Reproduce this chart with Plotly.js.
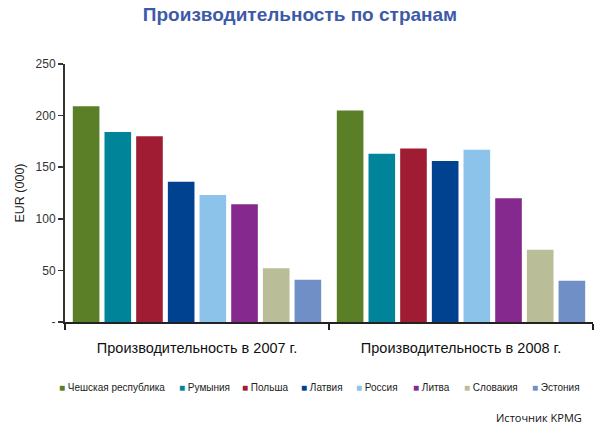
<!DOCTYPE html>
<html>
<head>
<meta charset="utf-8">
<script src="https://cdn.plot.ly/plotly-3.0.1.min.js"></script>
<style>html,body{margin:0;padding:0;background:#fff;}#chart{width:600px;height:430px;}</style>
</head>
<body>
<div id="chart"></div>
<script>
// ---- data ----
const categories = ["Производительность в 2007 г.", "Производительность в 2008 г."];
const countries = ["Чешская республика", "Румыния", "Польша", "Латвия", "Россия", "Литва", "Словакия", "Эстония"];
const values2007 = [209, 184, 180, 136, 123, 114, 52, 41];
const values2008 = [205, 163, 168, 156, 167, 120, 70, 40];
const yTickVals = [0, 50, 100, 150, 200, 250];
const yTickText = ["-", "50", "100", "150", "200", "250"];
const chartTitle = "Производительность по странам";
const yTitle = "EUR (000)";
const sourceText = "Источник KPMG";

// ---- styles ----
const colors = ["#5a7f26", "#00849a", "#a01c33", "#004190", "#8cc3ea", "#86298e", "#b9bd98", "#6f8fc6"];
const legendPx = [57, 177, 240, 299, 354, 411, 462, 530];
const plotL = 65, plotR = 593, plotT = 64, plotB = 322;
const W = 600, H = 430;
const FONT = "Liberation Sans, Arial, sans-serif";

const traces = countries.map((name, i) => ({
  type: "bar",
  name: name,
  x: categories,
  y: [values2007[i], values2008[i]],
  marker: {color: colors[i], line: {width: 0}},
  showlegend: false,
  hoverinfo: "y+name"
}));

const pw = plotR - plotL, ph = plotB - plotT;
const legendY = (plotB - 387) / ph;
const annotations = countries.map((name, i) => ({
  xref: "paper", yref: "paper",
  x: (legendPx[i] - plotL) / pw, y: legendY,
  xanchor: "left", yanchor: "middle",
  showarrow: false,
  text: "<span style='font-size:10px;color:" + colors[i] + "'>■</span> " + name,
  font: {family: FONT, size: 10, color: "#222"}
}));
annotations.push({
  xref: "paper", yref: "paper",
  x: (584 - plotL) / pw, y: (plotB - 417) / ph,
  xanchor: "right", yanchor: "middle",
  showarrow: false,
  text: sourceText,
  font: {family: "Open Sans, sans-serif", size: 11, color: "#111"}
});

const layout = {
  width: W, height: H,
  margin: {l: plotL, r: W - plotR, t: plotT, b: H - plotB, pad: 0},
  paper_bgcolor: "#fff", plot_bgcolor: "#fff",
  font: {family: FONT, size: 12, color: "#333"},
  title: {
    text: chartTitle,
    font: {family: FONT, size: 19, color: "#3d5aa8", weight: "bold"},
    x: 0.5, xanchor: "center", xref: "container",
    y: 1 - 14 / H, yanchor: "middle", yref: "container"
  },
  barmode: "group",
  bargap: 0.04,
  bargroupgap: 0.16,
  showlegend: false,
  xaxis: {
    type: "category",
    tickson: "boundaries",
    ticks: "outside", ticklen: 6, tickwidth: 1.5, tickcolor: "#222",
    showline: true, linecolor: "#222", linewidth: 1.5,
    showgrid: false, zeroline: false,
    ticklabelstandoff: 12,
    tickfont: {family: FONT, size: 14.5, color: "#111"}
  },
  yaxis: {
    range: [0, 250],
    tickvals: yTickVals, ticktext: yTickText,
    ticks: "outside", ticklen: 5, tickwidth: 1.5, tickcolor: "#333",
    showline: true, linecolor: "#333", linewidth: 2,
    showgrid: false, zeroline: false,
    tickfont: {family: FONT, size: 12, color: "#333"},
    title: {text: yTitle, font: {family: FONT, size: 12.5, color: "#222"}, standoff: 8}
  },
  annotations: annotations
};

Plotly.newPlot("chart", traces, layout, {displayModeBar: false, staticPlot: true});
</script>
</body>
</html>
